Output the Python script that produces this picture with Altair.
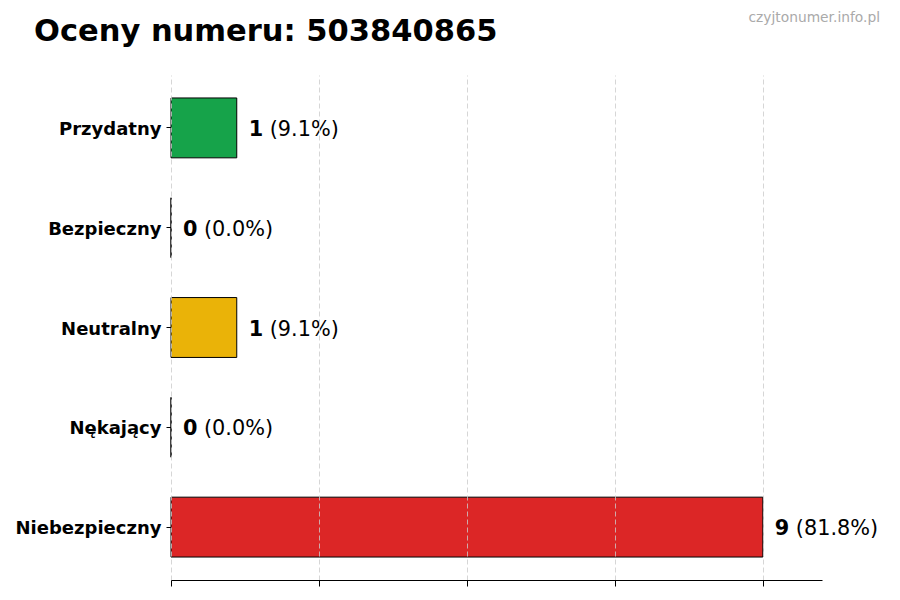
import altair as alt
import pandas as pd

categories = ["Przydatny", "Bezpieczny", "Neutralny", "Nękający", "Niebezpieczny"]
counts = [1, 0, 1, 0, 9]
colors = ["#16a34a", "#2563eb", "#eab308", "#f97316", "#dc2626"]
x_ticks = [0, 2.25, 4.5, 6.75, 9]
x_max = 9.9
title_text = "Oceny numeru: 503840865"
watermark_text = "czyjtonumer.info.pl"

total = sum(counts)
df = pd.DataFrame({
    "category": categories,
    "count": counts,
    "color": colors,
    "num": [str(c) for c in counts],
    "pct": [f"({c / total * 100:.1f}%)" for c in counts],
})

FONT = "DejaVu Sans"

y_enc = alt.Y(
    "category:N", sort=categories, title=None,
    scale=alt.Scale(paddingInner=0.4, paddingOuter=0.23),
    axis=alt.Axis(labelFont=FONT, labelFontWeight="bold", labelFontSize=18,
                  labelColor="black", domain=False, ticks=True, tickColor="black",
                  tickSize=5, labelPadding=5, labelOffset=2, grid=False),
)
x_enc = alt.X(
    "count:Q", title=None,
    scale=alt.Scale(domain=[0, x_max], nice=False, zero=True),
    axis=alt.Axis(values=x_ticks, labels=False, grid=True, gridDash=[5, 3],
                  gridColor="#cccccc", gridWidth=0.8, domainColor="black",
                  tickColor="black", tickSize=6, zindex=1),
)

base = alt.Chart(df)

bars = base.mark_bar(stroke="black", strokeWidth=1).encode(
    x=x_enc, y=y_enc, color=alt.Color("color:N", scale=None)
)

num_text = base.mark_text(align="left", baseline="middle", dx=12, dy=2, fontSize=20.8,
                          fontWeight="bold", font=FONT, color="black").encode(
    x=alt.X("count:Q"), y=alt.Y("category:N", sort=categories), text="num:N"
)

pct_text = base.mark_text(align="left", baseline="middle", dx=33, dy=2, fontSize=20.8,
                          fontWeight="normal", font=FONT, color="black").encode(
    x=alt.X("count:Q"), y=alt.Y("category:N", sort=categories), text="pct:N"
)

ann_df = pd.DataFrame({"title": [title_text], "wm": [watermark_text]})
ann = alt.Chart(ann_df)
title_mark = ann.mark_text(align="left", baseline="alphabetic", fontSize=30.5,
                           fontWeight="bold", font=FONT, color="black").encode(
    x=alt.value(-137), y=alt.value(-34), text="title:N"
)
wm_mark = ann.mark_text(align="right", baseline="alphabetic", fontSize=13.8,
                        font=FONT, color="#aaaaaa").encode(
    x=alt.value(709), y=alt.value(-53), text="wm:N"
)

chart = alt.layer(bars, num_text, pct_text, title_mark, wm_mark).properties(
    width=651, height=505,
    autosize=alt.AutoSizeParams(type="none"),
    padding={"left": 163, "top": 67, "right": 60, "bottom": 12},
    background="white",
).configure(font=FONT).configure_view(stroke=None)

chart.save("out.html", embed_options={"renderer": "svg", "actions": False})
